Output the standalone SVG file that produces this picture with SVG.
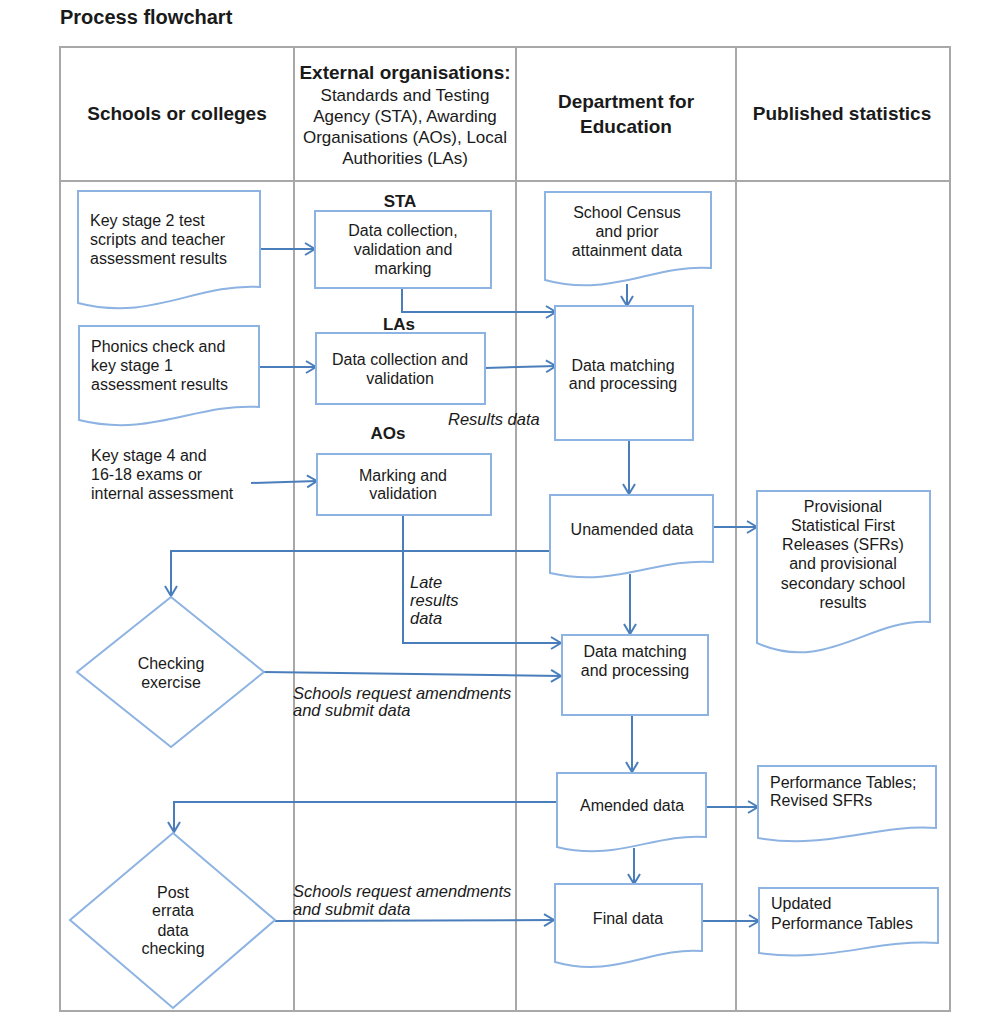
<svg xmlns="http://www.w3.org/2000/svg" width="982" height="1024" viewBox="0 0 982 1024">
<style>
text{font-family:"Liberation Sans",Arial,sans-serif;fill:#1a1a1a}
.t{font-size:16px}
.c{text-anchor:middle}
.hb{font-size:19px;font-weight:bold}
.hs{font-size:17px}
.lb{font-size:17px;font-weight:bold}
.i{font-size:16.5px;font-style:italic}
.grid{stroke:#a8a8a8;stroke-width:2;fill:none}
.node{fill:#fff;stroke:#8db3e2;stroke-width:2}
.con{fill:none;stroke:#4a7ebb;stroke-width:2}
</style>
<defs>
<marker id="ah" markerUnits="userSpaceOnUse" viewBox="0 0 12 14" refX="11" refY="7" markerWidth="12" markerHeight="14" orient="auto" overflow="visible">
<path d="M1,1 L11,7 L1,13" fill="none" stroke="#4a7ebb" stroke-width="2"/>
</marker>
</defs>
<rect width="982" height="1024" fill="#fff"/>
<text x="60" y="24" style="font-size:20px;font-weight:bold">Process flowchart</text>
<g id="table">
<rect class="grid" x="60" y="47" width="890" height="964"/>
<line class="grid" x1="60" y1="181" x2="950" y2="181"/>
<line class="grid" x1="294" y1="47" x2="294" y2="1011"/>
<line class="grid" x1="516" y1="47" x2="516" y2="1011"/>
<line class="grid" x1="736" y1="47" x2="736" y2="1011"/>
</g>
<g id="headers">
<text class="hb c" x="177" y="120">Schools or colleges</text>
<text class="hb c" x="405" y="79">External organisations:</text>
<text class="hs c" x="405" y="101">Standards and Testing</text>
<text class="hs c" x="405" y="122">Agency (STA), Awarding</text>
<text class="hs c" x="405" y="143">Organisations (AOs), Local</text>
<text class="hs c" x="405" y="164">Authorities (LAs)</text>
<text class="hb c" x="626" y="108">Department for</text>
<text class="hb c" x="626" y="133">Education</text>
<text class="hb c" x="842" y="120">Published statistics</text>
</g>
<g id="labels">
<text class="lb c" x="400" y="207">STA</text>
<text class="lb c" x="399" y="330">LAs</text>
<text class="lb c" x="388" y="439">AOs</text>
<text class="i" x="448" y="425">Results data</text>
<text class="i" x="410" y="588">Late</text>
<text class="i" x="410" y="606">results</text>
<text class="i" x="410" y="624">data</text>
<text class="i" x="293" y="699">Schools request amendments</text>
<text class="i" x="293" y="716">and submit data</text>
<text class="i" x="293" y="897">Schools request amendments</text>
<text class="i" x="293" y="915">and submit data</text>
</g>
<g id="connectors">
<path class="con" marker-end="url(#ah)" d="M261,249 H315"/>
<path class="con" marker-end="url(#ah)" d="M402,288 V312 H556"/>
<path class="con" marker-end="url(#ah)" d="M259,367 H316"/>
<path class="con" marker-end="url(#ah)" d="M485,368 L556,366"/>
<path class="con" marker-end="url(#ah)" d="M627,284 V306"/>
<path class="con" marker-end="url(#ah)" d="M251,483 L317,481"/>
<path class="con" marker-end="url(#ah)" d="M403,515 V643 H561"/>
<path class="con" marker-end="url(#ah)" d="M629,440 V494"/>
<path class="con" marker-end="url(#ah)" d="M550,551 H171 V596"/>
<path class="con" marker-end="url(#ah)" d="M713,527 H757"/>
<path class="con" marker-end="url(#ah)" d="M630,574 V634"/>
<path class="con" marker-end="url(#ah)" d="M264,672 L561,676"/>
<path class="con" marker-end="url(#ah)" d="M632,715 V772"/>
<path class="con" marker-end="url(#ah)" d="M557,802 H174 V832"/>
<path class="con" marker-end="url(#ah)" d="M705,807 H758"/>
<path class="con" marker-end="url(#ah)" d="M634,848 V884"/>
<path class="con" marker-end="url(#ah)" d="M275,921 L554,920"/>
<path class="con" marker-end="url(#ah)" d="M702,921 H759"/>
</g>
<g id="ks2">
<path class="node" d="M78,191 H260 V287 C196,283 151,322 78,303 Z"/>
<text class="t" x="90" y="226">Key stage 2 test</text>
<text class="t" x="90" y="245">scripts and teacher</text>
<text class="t" x="90" y="264">assessment results</text>
</g>
<g id="phonics">
<path class="node" d="M79,326 H259 V407 C196,403 151,438 79,420 Z"/>
<text class="t" x="91" y="352">Phonics check and</text>
<text class="t" x="91" y="371">key stage 1</text>
<text class="t" x="91" y="390">assessment results</text>
</g>
<g id="ks4">
<text class="t" x="91" y="461">Key stage 4 and</text>
<text class="t" x="91" y="480">16-18 exams or</text>
<text class="t" x="91" y="499">internal assessment</text>
</g>
<g id="sta">
<rect class="node" x="315" y="211" width="176" height="77"/>
<text class="t c" x="403" y="236">Data collection,</text>
<text class="t c" x="403" y="255">validation and</text>
<text class="t c" x="403" y="274">marking</text>
</g>
<g id="las">
<rect class="node" x="316" y="333" width="169" height="71"/>
<text class="t c" x="400" y="365">Data collection and</text>
<text class="t c" x="400" y="384">validation</text>
</g>
<g id="aos">
<rect class="node" x="317" y="454" width="174" height="61"/>
<text class="t c" x="403" y="481">Marking and</text>
<text class="t c" x="403" y="499">validation</text>
</g>
<g id="census">
<path class="node" d="M545,192 H711 V268 C653,264 611,298 545,280 Z"/>
<text class="t c" x="627" y="218">School Census</text>
<text class="t c" x="627" y="237">and prior</text>
<text class="t c" x="627" y="256">attainment data</text>
</g>
<g id="dmp1">
<rect class="node" x="555" y="306" width="138" height="134"/>
<text class="t c" x="623" y="371">Data matching</text>
<text class="t c" x="623" y="389">and processing</text>
</g>
<g id="unamended">
<path class="node" d="M550,495 H713 V562 C656,558 615,588 550,573 Z"/>
<text class="t c" x="632" y="535">Unamended data</text>
</g>
<g id="provisional">
<path class="node" d="M757,491 H930 V622 C869,618 826,674 757,643 Z"/>
<text class="t c" x="843" y="512">Provisional</text>
<text class="t c" x="843" y="531">Statistical First</text>
<text class="t c" x="843" y="550">Releases (SFRs)</text>
<text class="t c" x="843" y="569">and provisional</text>
<text class="t c" x="843" y="589">secondary school</text>
<text class="t c" x="843" y="608">results</text>
</g>
<g id="checking">
<path class="node" d="M171,597 L264,672 L171,747 L77,672 Z"/>
<text class="t c" x="171" y="669">Checking</text>
<text class="t c" x="171" y="688">exercise</text>
</g>
<g id="dmp2">
<rect class="node" x="562" y="635" width="146" height="80"/>
<text class="t c" x="635" y="657">Data matching</text>
<text class="t c" x="635" y="676">and processing</text>
</g>
<g id="amended">
<path class="node" d="M557,773 H706 V837 C654,833 617,862 557,847 Z"/>
<text class="t c" x="632" y="811">Amended data</text>
</g>
<g id="perf">
<path class="node" d="M758,766 H936 V828 C874,824 829,850 758,838 Z"/>
<text class="t" x="770" y="788">Performance Tables;</text>
<text class="t" x="770" y="806">Revised SFRs</text>
</g>
<g id="posterrata">
<path class="node" d="M173,833 L275,920 L173,1008 L70,920 Z"/>
<text class="t c" x="173" y="898">Post</text>
<text class="t c" x="173" y="916">errata</text>
<text class="t c" x="173" y="936">data</text>
<text class="t c" x="173" y="954">checking</text>
</g>
<g id="final">
<path class="node" d="M555,884 H702 V951 C651,947 614,979 555,962 Z"/>
<text class="t c" x="628" y="924">Final data</text>
</g>
<g id="updated">
<path class="node" d="M759,888 H938 V943 C875,939 831,963 759,953 Z"/>
<text class="t" x="771" y="909">Updated</text>
<text class="t" x="771" y="929">Performance Tables</text>
</g>
</svg>
